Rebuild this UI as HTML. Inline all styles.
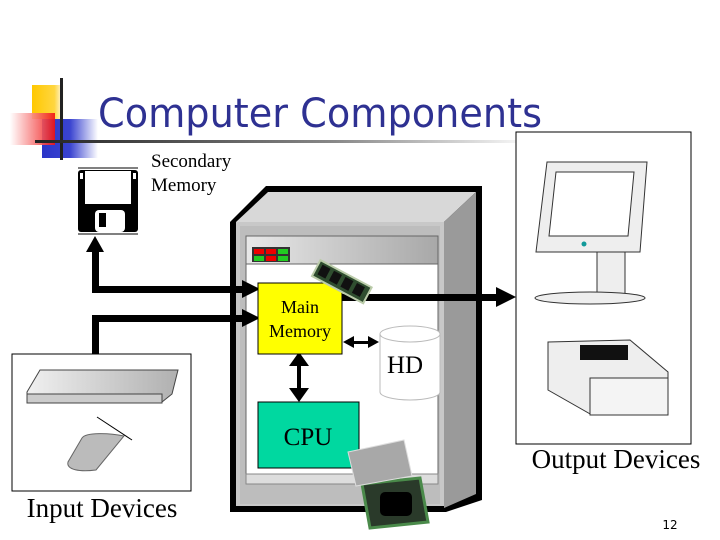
<!DOCTYPE html>
<html><head><meta charset="utf-8"><style>
html,body{margin:0;padding:0;background:#fff;}
svg{display:block;}
</style></head><body>
<svg width="720" height="540" viewBox="0 0 720 540" xmlns="http://www.w3.org/2000/svg">
<defs>
<linearGradient id="hl" x1="0" x2="1"><stop offset="0" stop-color="#222"/><stop offset="0.6" stop-color="#888"/><stop offset="1" stop-color="#fff"/></linearGradient>
<linearGradient id="bl" x1="0" x2="1"><stop offset="0" stop-color="#2b35c8"/><stop offset="0.5" stop-color="#3a44d0"/><stop offset="1" stop-color="#fff"/></linearGradient>
<linearGradient id="rd" x1="1" x2="0"><stop offset="0" stop-color="#f01010"/><stop offset="1" stop-color="#fff"/></linearGradient>
<linearGradient id="yl" x1="0" x2="1"><stop offset="0" stop-color="#ffc800"/><stop offset="0.7" stop-color="#ffd640"/><stop offset="1" stop-color="#fff"/></linearGradient>
<linearGradient id="drw" x1="0" x2="1"><stop offset="0" stop-color="#e8e8e8"/><stop offset="1" stop-color="#a8a8a8"/></linearGradient>
<linearGradient id="gr" x1="0" x2="1"><stop offset="0" stop-color="#f0f0f0"/><stop offset="1" stop-color="#b0b0b0"/></linearGradient>
</defs>
<!-- logo -->
<rect x="32" y="85" width="32" height="34" fill="url(#yl)"/>
<rect x="42" y="119" width="56" height="39" fill="url(#bl)"/>
<rect x="10" y="113" width="45" height="32" fill="url(#rd)" opacity="0.9"/>
<rect x="60" y="78" width="3" height="82" fill="#222"/>
<rect x="35" y="140" width="500" height="3" fill="url(#hl)"/>
<text x="98" y="127" font-family="DejaVu Sans, Liberation Sans, sans-serif" font-size="40" fill="#2e3192" textLength="444" lengthAdjust="spacingAndGlyphs">Computer Components</text>

<!-- floppy -->
<line x1="78" y1="168" x2="138" y2="168" stroke="#000"/>
<line x1="78" y1="234" x2="138" y2="234" stroke="#000"/>
<rect x="78" y="170" width="60" height="62" rx="3" fill="#000"/>
<rect x="85" y="171" width="46" height="33" fill="#fff"/>
<rect x="95" y="210" width="30" height="22" rx="4" fill="#fff"/>
<rect x="99" y="213" width="7" height="14" fill="#000"/>
<rect x="80" y="173" width="3" height="6" fill="#fff"/><rect x="133" y="173" width="3" height="6" fill="#fff"/>
<text x="151" y="167" font-family="Liberation Serif, serif" font-size="19">Secondary</text>
<text x="151" y="191" font-family="Liberation Serif, serif" font-size="19">Memory</text>

<!-- tower -->
<polygon points="230,222 266,186 482,186 482,500 446,512 230,512" fill="#000"/>
<polygon points="236,222 268,192 476,192 444,222" fill="#d8d8d8"/>
<polygon points="444,222 476,192 476,494 444,508" fill="#9a9a9a"/>
<rect x="236" y="222" width="208" height="284" fill="#c8c8c8"/>
<rect x="240" y="226" width="200" height="278" fill="#bdbdbd"/>
<rect x="246" y="236" width="192" height="28" fill="url(#drw)" stroke="#666" stroke-width="1"/>
<rect x="246" y="264" width="192" height="210" fill="#fff" stroke="#666"/>
<rect x="246" y="474" width="192" height="10" fill="#ddd" stroke="#888"/>
<rect x="252" y="247" width="38" height="15" fill="#333"/>
<rect x="254" y="249" width="10" height="5" fill="#e00"/><rect x="266" y="249" width="10" height="5" fill="#e00"/><rect x="278" y="249" width="10" height="5" fill="#2c2"/>
<rect x="254" y="256" width="10" height="5" fill="#2c2"/><rect x="266" y="256" width="10" height="5" fill="#e00"/><rect x="278" y="256" width="10" height="5" fill="#2c2"/>

<!-- arrows -->
<g fill="#000">
<rect x="92" y="250" width="7" height="42"/>
<polygon points="86,252 95,236 104,252"/>
<rect x="92" y="286" width="152" height="7"/>
<polygon points="242,280 260,289 242,298"/>
<rect x="92" y="315" width="152" height="7"/>
<polygon points="242,309 260,318 242,327"/>
<rect x="92" y="315" width="7" height="40"/>
<rect x="340" y="294" width="160" height="7"/>
<polygon points="496,287 516,297 496,307"/>
<rect x="297" y="362" width="4" height="32"/>
<polygon points="289,366 299,352 309,366"/><polygon points="289,388 299,402 309,388"/>
<rect x="350" y="341" width="22" height="3"/>
<polygon points="354,336 343,342 354,348"/><polygon points="368,336 379,342 368,348"/>
</g>

<!-- main memory -->
<rect x="258" y="283" width="84" height="71" fill="#ffff00" stroke="#000" stroke-width="1"/>
<text x="300" y="313" text-anchor="middle" font-family="Liberation Serif, serif" font-size="18">Main</text>
<text x="300" y="337" text-anchor="middle" font-family="Liberation Serif, serif" font-size="18">Memory</text>
<g transform="rotate(28 340 283)"><rect x="312" y="272" width="58" height="18" fill="#2f4d2f" stroke="#bca" stroke-width="2"/>
<rect x="316" y="275" width="9" height="11" fill="#111"/><rect x="329" y="275" width="9" height="11" fill="#111"/><rect x="342" y="275" width="9" height="11" fill="#111"/><rect x="355" y="275" width="9" height="11" fill="#111"/></g>

<!-- HD -->
<path d="M380,334 L380,392 A30,8 0 0 0 440,392 L440,334" fill="#fff" stroke="#bbb"/>
<ellipse cx="410" cy="334" rx="30" ry="8" fill="#fff" stroke="#bbb"/>
<text x="405" y="373" text-anchor="middle" font-family="Liberation Serif, serif" font-size="25">HD</text>

<!-- CPU -->
<rect x="258" y="402" width="101" height="66" fill="#00d8a0" stroke="#000" stroke-width="1"/>
<text x="308" y="445" text-anchor="middle" font-family="Liberation Serif, serif" font-size="25">CPU</text>
<polygon points="362,484 420,478 428,522 370,528" fill="#2a3a2a" stroke="#4a8a4a" stroke-width="3"/>
<rect x="380" y="492" width="32" height="24" rx="5" fill="#000"/>
<polygon points="348,452 404,440 412,476 356,486" fill="#a8a8a8" stroke="#ddd"/>

<!-- input -->
<rect x="12" y="354" width="179" height="137" fill="#fff" stroke="#000"/>
<polygon points="40,370 178,370 172,394 162,402 27,402 27,392" fill="url(#gr)" stroke="#444"/>
<rect x="27" y="394" width="135" height="9" fill="#ccc" stroke="#444"/>
<path d="M82,438 C86,432 110,433 124,436 L96,470 C80,472 66,470 68,462 Z" fill="#bbb" stroke="#666"/>
<line x1="97" y1="417" x2="132" y2="440" stroke="#000"/>
<text x="102" y="517" text-anchor="middle" font-family="Liberation Serif, serif" font-size="27">Input Devices</text>

<!-- output -->
<rect x="516" y="132" width="175" height="312" fill="#fff" stroke="#000"/>
<polygon points="547,162 647,162 640,252 536,252" fill="#eee" stroke="#333"/>
<polygon points="556,172 634,172 628,236 549,236" fill="#fff" stroke="#333"/>
<circle cx="584" cy="244" r="2.5" fill="#199"/>
<rect x="597" y="252" width="28" height="45" fill="#eee" stroke="#333"/>
<ellipse cx="590" cy="298" rx="55" ry="6" fill="#eee" stroke="#333"/>
<polygon points="548,342 630,340 668,372 668,415 592,415 548,390" fill="#eee" stroke="#333"/>
<rect x="580" y="345" width="48" height="15" fill="#111"/>
<rect x="590" y="378" width="78" height="37" fill="#f4f4f4" stroke="#333"/>
<text x="616" y="468" text-anchor="middle" font-family="Liberation Serif, serif" font-size="27">Output Devices</text>
<text x="670" y="529" text-anchor="middle" font-family="DejaVu Sans, sans-serif" font-size="12">12</text>
</svg>
</body></html>
